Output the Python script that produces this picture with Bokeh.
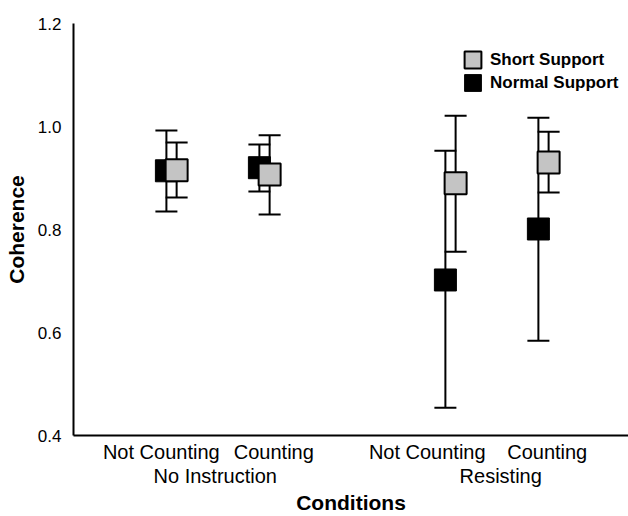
from bokeh.plotting import figure
from bokeh.models import (Range1d, FixedTicker, LinearAxis, Legend, LegendItem,
                          NumeralTickFormatter, ColumnDataSource)
from bokeh.embed import file_html
from bokeh.resources import INLINE

# ---- data ----
positions = [1, 2, 4, 5]
condition_labels = ["Not Counting", "Counting", "Not Counting", "Counting"]
label_positions = [0.89, 2.10, 3.75, 5.04]
group_labels = ["No Instruction", "Resisting"]
group_positions = [1.47, 4.54]

short_mean = [0.915, 0.907, 0.890, 0.930]
short_upper = [0.969, 0.983, 1.021, 0.990]
short_lower = [0.862, 0.829, 0.757, 0.872]

normal_mean = [0.914, 0.920, 0.702, 0.801]
normal_upper = [0.992, 0.965, 0.953, 1.017]
normal_lower = [0.835, 0.874, 0.454, 0.584]

y_ticks = [0.4, 0.6, 0.8, 1.0, 1.2]

DODGE = 0.055
FONT = "Liberation Sans"

normal_src = ColumnDataSource(dict(
    x=[v - DODGE for v in positions], mean=normal_mean,
    upper=normal_upper, lower=normal_lower))
short_src = ColumnDataSource(dict(
    x=[v + DODGE for v in positions], mean=short_mean,
    upper=short_upper, lower=short_lower))

p = figure(width=628, height=516, x_range=Range1d(-0.054, 5.914),
           y_range=Range1d(0.4, 1.2), output_backend="svg",
           toolbar_location=None, min_border_left=73, min_border_right=0,
           min_border_top=23, min_border_bottom=81)
p.xgrid.visible = False
p.ygrid.visible = False
p.outline_line_color = None
p.background_fill_color = "white"
p.border_fill_color = "white"


def draw(src, fill, lw):
    p.segment(x0="x", x1="x", y0="lower", y1="upper", source=src,
              line_color="black", line_width=2)
    p.scatter(x="x", y="upper", source=src, marker="dash", size=22,
              line_color="black", line_width=2)
    p.scatter(x="x", y="lower", source=src, marker="dash", size=22,
              line_color="black", line_width=2)
    return p.rect(x="x", y="mean", source=src, width=22, height=22,
                  width_units="screen", height_units="screen",
                  fill_color=fill, line_color="black", line_width=lw)


normal_sq = draw(normal_src, "black", 1)
short_sq = draw(short_src, "#c4c4c4", 2)

# y axis
p.yaxis.ticker = FixedTicker(ticks=y_ticks)
p.yaxis.formatter = NumeralTickFormatter(format="0.0")
p.yaxis.major_tick_line_color = None
p.yaxis.minor_tick_line_color = None
p.yaxis.axis_line_width = 2
p.yaxis.major_label_standoff = 6
p.yaxis.major_label_text_font = FONT
p.yaxis.major_label_text_font_size = "17px"
p.yaxis.major_label_text_color = "black"
p.yaxis.axis_label = "Coherence"
p.yaxis.axis_label_text_font = FONT
p.yaxis.axis_label_text_font_style = "bold"
p.yaxis.axis_label_text_font_size = "21px"
p.yaxis.axis_label_text_color = "black"
p.yaxis.axis_label_standoff = 7

# x axis (condition labels)
xa = p.xaxis[0]
xa.ticker = FixedTicker(ticks=label_positions)
xa.major_label_overrides = {t: l for t, l in zip(label_positions, condition_labels)}
xa.major_tick_line_color = None
xa.minor_tick_line_color = None
xa.axis_line_width = 2
xa.major_label_standoff = -1
xa.major_label_text_font = FONT
xa.major_label_text_font_size = "20px"
xa.major_label_text_color = "black"

# second x axis (group labels + title)
xa2 = LinearAxis(ticker=FixedTicker(ticks=group_positions),
                 major_label_overrides={t: l for t, l in zip(group_positions, group_labels)},
                 axis_line_color=None, major_tick_line_color=None,
                 minor_tick_line_color=None, major_label_standoff=-7,
                 major_label_text_font=FONT, major_label_text_font_size="20px",
                 major_label_text_color="black",
                 axis_label="Conditions", axis_label_text_font=FONT,
                 axis_label_text_font_style="bold", axis_label_text_color="black",
                 axis_label_text_font_size="21px", axis_label_standoff=1)
p.add_layout(xa2, "below")

legend = Legend(items=[LegendItem(label="Short Support", renderers=[short_sq]),
                       LegendItem(label="Normal Support", renderers=[normal_sq])],
                location=(389, 342), padding=0, margin=0, spacing=2,
                glyph_width=21, glyph_height=21, label_standoff=7,
                border_line_color=None, background_fill_alpha=0,
                label_text_font=FONT, label_text_font_style="bold",
                label_text_font_size="17px", label_text_color="black")
p.add_layout(legend)

open("out.html", "w").write(file_html(p, INLINE))
